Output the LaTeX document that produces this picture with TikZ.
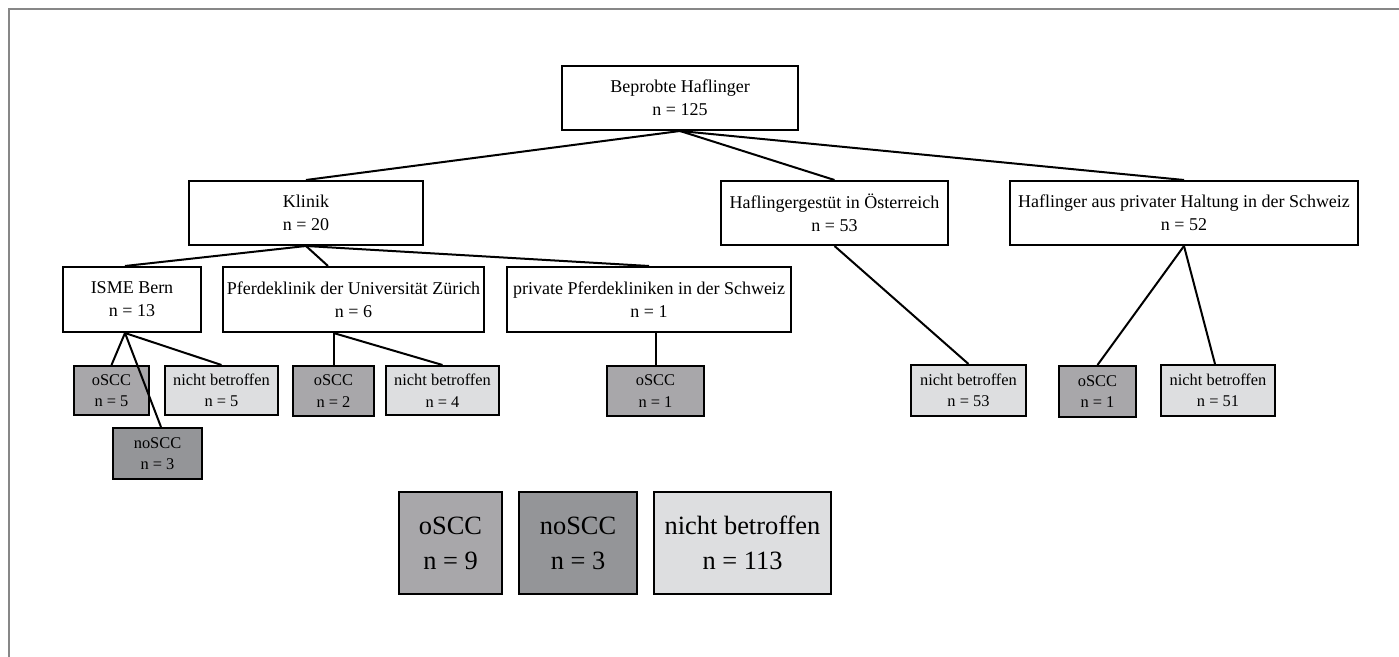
\documentclass[tikz,border=0pt]{standalone}
\usepackage{fontspec}
\setmainfont{Liberation Serif}
\usetikzlibrary{positioning}
\definecolor{osccgray}{RGB}{168,167,170}
\definecolor{nosccgray}{RGB}{148,149,152}
\definecolor{nbgray}{RGB}{221,222,224}
\definecolor{framegray}{RGB}{135,135,135}
\tikzset{
x=0.5pt,y=-0.5pt, % pixel grid of the figure
my box/.style={draw,line width=1pt,inner sep=0pt,align=center,
  font=\fontsize{9}{11.5}\selectfont},
my size/.style 2 args={minimum width=#1,minimum height=#2},
my leaf/.style={my box,font=\fontsize{8.2}{10.8}\selectfont},
oscc/.style={my leaf,fill=osccgray},
noscc/.style={my leaf,fill=nosccgray},
nb/.style={my leaf,fill=nbgray},
total/.style={my box,my size={#1}{51pt},font=\fontsize{13.2}{17.5}\selectfont},
branch/.style={line width=1pt},
}
\begin{document}
\begin{tikzpicture}
\useasboundingbox (0,0) rectangle (1399,657);
\draw[framegray,line width=0.7pt] (9,657) -- (9,9) -- (1399,9);
% upper levels
\node[my box,my size={117.75pt}{32pt}] (root)    at (680,98)    {Beprobte Haflinger\\n = 125};
\node[my box,my size={117pt}{32pt}]    (klinik)  at (306,213)   {Klinik\\n = 20};
\node[my box,my size={113.5pt}{32pt}]  (gestuet) at (834.5,213) {Haflingergestüt in Österreich\\n = 53};
\node[my box,my size={174pt}{32pt}]    (haltung) at (1184,213)  {Haflinger aus privater Haltung in der Schweiz\\n = 52};
\node[my box,my size={69pt}{32.5pt}]   (isme)    at (132,299.5) {ISME Bern\\n = 13};
\node[my box,my size={130.5pt}{32.5pt}] (zuerich) at (353.5,299.5) {Pferdeklinik der Universität Zürich\\n = 6};
\node[my box,my size={142pt}{32.5pt}]  (privat)  at (649,299.5) {private Pferdekliniken in der Schweiz\\n = 1};
% leaves
\node[oscc,my size={37.5pt}{24.5pt}]  (isme-o)  at (111.5,390.5) {oSCC\\n = 5};
\node[nb,my size={56.5pt}{24.5pt}]    (isme-nb) at (221.5,390.5) {nicht betroffen\\n = 5};
\node[noscc,my size={44.5pt}{25.5pt}] (isme-no) at (157.5,453.5) {noSCC\\n = 3};
\node[oscc,my size={40.5pt}{25pt}]    (zh-o)    at (333.5,391)   {oSCC\\n = 2};
\node[nb,my size={56.5pt}{24.5pt}]    (zh-nb)   at (442.5,390.5) {nicht betroffen\\n = 4};
\node[oscc,my size={48.5pt}{25pt}]    (pk-o)    at (655.5,391)   {oSCC\\n = 1};
\node[nb,my size={57.5pt}{25.5pt}]    (gs-nb)   at (968.5,390.5) {nicht betroffen\\n = 53};
\node[oscc,my size={38.5pt}{25.5pt}]  (ha-o)    at (1097.5,391.5) {oSCC\\n = 1};
\node[nb,my size={57pt}{25.5pt}]      (ha-nb)   at (1218,390.5)  {nicht betroffen\\n = 51};
% totals
\node[total=51.5pt,fill=osccgray] (total-o)  at (450.5,543) {oSCC\\n = 9};
\node[total=59pt,fill=nosccgray]  (total-no) at (578,543)   {noSCC\\n = 3};
\node[total=88.5pt,fill=nbgray]   (total-nb) at (742.5,543) {nicht betroffen\\n = 113};
% connectors
\path[branch] (root.south) edge (klinik.north)
                           edge (gestuet.north)
                           edge (haltung.north);
\path[branch] (klinik.south) edge ([xshift=-3.5pt]isme.north)
                             edge ([xshift=-12.75pt]zuerich.north)
                             edge (privat.north);
\path[branch] ([xshift=-3.5pt]isme.south) edge (isme-o.north)
                                          edge ([xshift=1.75pt]isme-no.north)
                                          edge (isme-nb.north);
\path[branch] (zh-o.north |- zuerich.south) edge (zh-o.north)
                                            edge (zh-nb.north);
\path[branch] (pk-o.north) edge (pk-o.north |- privat.south);
\path[branch] (gestuet.south) edge (gs-nb.north);
\path[branch] (haltung.south) edge (ha-o.north)
                              edge ([xshift=-1.5pt]ha-nb.north);
\end{tikzpicture}
\end{document}
